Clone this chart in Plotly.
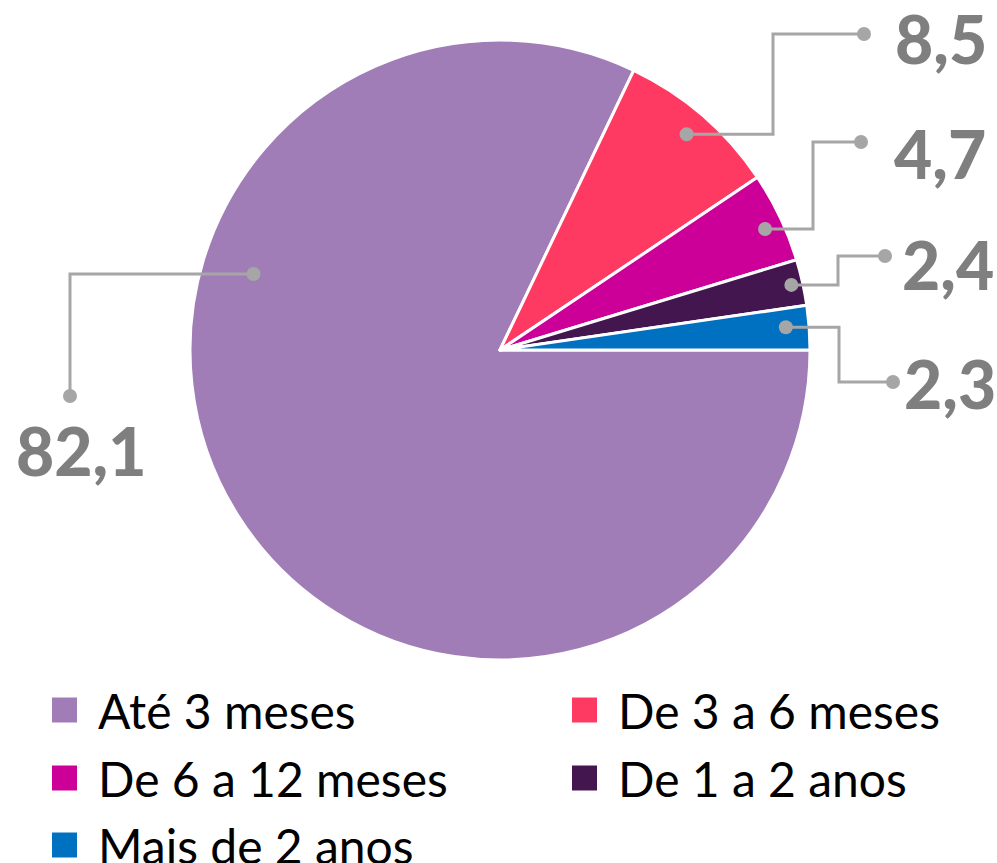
import math
import plotly.graph_objects as go

categories = ["Até 3 meses", "De 3 a 6 meses", "De 6 a 12 meses", "De 1 a 2 anos", "Mais de 2 anos"]
values = [82.1, 8.5, 4.7, 2.4, 2.3]
value_labels = ["82,1", "8,5", "4,7", "2,4", "2,3"]
colors = ["#A17DB8", "#FF3A62", "#CC0099", "#441650", "#0070C0"]

W, H = 997, 863
CX, CY, R = 500, 350, 310

def px(x):
    return x / W

def py(y):
    return 1 - y / H

fig = go.Figure()
fig.add_trace(go.Pie(
    labels=categories, values=values, sort=False, direction="clockwise", rotation=90,
    marker=dict(colors=colors, line=dict(color="white", width=3)),
    textinfo="none", hoverinfo="label+value", showlegend=False,
    domain=dict(x=[px(CX - R), px(CX + R)], y=[py(CY + R), py(CY - R)]),
))

# slice angles (counterclockwise from east, degrees), derived from values; slices run clockwise from east
total = sum(values)
ends = []
acc = 0.0
for v in values:
    start = -acc / total * 360
    acc += v
    end = -acc / total * 360
    ends.append((start, end))

# label layout styling: (fraction along slice, radial fraction, elbow x, outer y, outer x, text x, text y, anchor)
label_style = [
    (0.667, 0.832, 70, 396, 70, 81, 450, "center"),
    (0.5, 0.92, 773, 34, 864, 893, 38, "left"),
    (0.55, 0.94, 813, 142, 861, 892, 153, "left"),
    (0.5, 0.963, 838, 256, 885, 900, 264, "left"),
    (0.45, 0.925, 839, 382, 893, 902, 384, "left"),
]

LINE = "#A6A6A6"
DOT = 7
for i, (frac, rf, ex, oy, ox, tx, ty, anc) in enumerate(label_style):
    s, e = ends[i]
    ang = math.radians(s + (e - s) * frac)
    ix = CX + rf * R * math.cos(ang)
    iy = CY - rf * R * math.sin(ang)
    pts = [(ix, iy), (ex, iy), (ex, oy), (ox, oy)]
    path = "M " + " L ".join(f"{px(a)},{py(b)}" for a, b in pts)
    fig.add_shape(type="path", path=path, xref="paper", yref="paper",
                  line=dict(color=LINE, width=3))
    for (dx, dy) in [(ix, iy), (ox, oy)]:
        fig.add_shape(type="circle", xref="paper", yref="paper",
                      x0=px(dx - DOT), x1=px(dx + DOT), y0=py(dy + DOT), y1=py(dy - DOT),
                      fillcolor=LINE, line=dict(width=0))
    fig.add_annotation(x=px(tx), y=py(ty), xref="paper", yref="paper",
                       text=value_labels[i], showarrow=False,
                       xanchor=anc, yanchor="middle",
                       font=dict(family="Lato", size=66, color="#7F7F7F", weight=900))

# custom legend
leg_pos = [(52, 710), (572, 710), (52, 778), (572, 778), (52, 845)]
SQ = 12.5
for i, (lx, ly) in enumerate(leg_pos):
    fig.add_shape(type="rect", xref="paper", yref="paper",
                  x0=px(lx), x1=px(lx + 2 * SQ), y0=py(ly + SQ), y1=py(ly - SQ),
                  fillcolor=colors[i], line=dict(width=0))
    fig.add_annotation(x=px(lx + 44), y=py(ly), xref="paper", yref="paper",
                       text=categories[i], showarrow=False, xanchor="left", yanchor="middle",
                       font=dict(family="Lato", size=48, color="#000000"))

fig.update_layout(width=W, height=H, margin=dict(l=0, r=0, t=0, b=0),
                  paper_bgcolor="white", plot_bgcolor="white", showlegend=False)
fig.write_html("out.html", config={"displayModeBar": False},
               post_script="document.body.style.margin='0';document.body.style.overflow='hidden';")
